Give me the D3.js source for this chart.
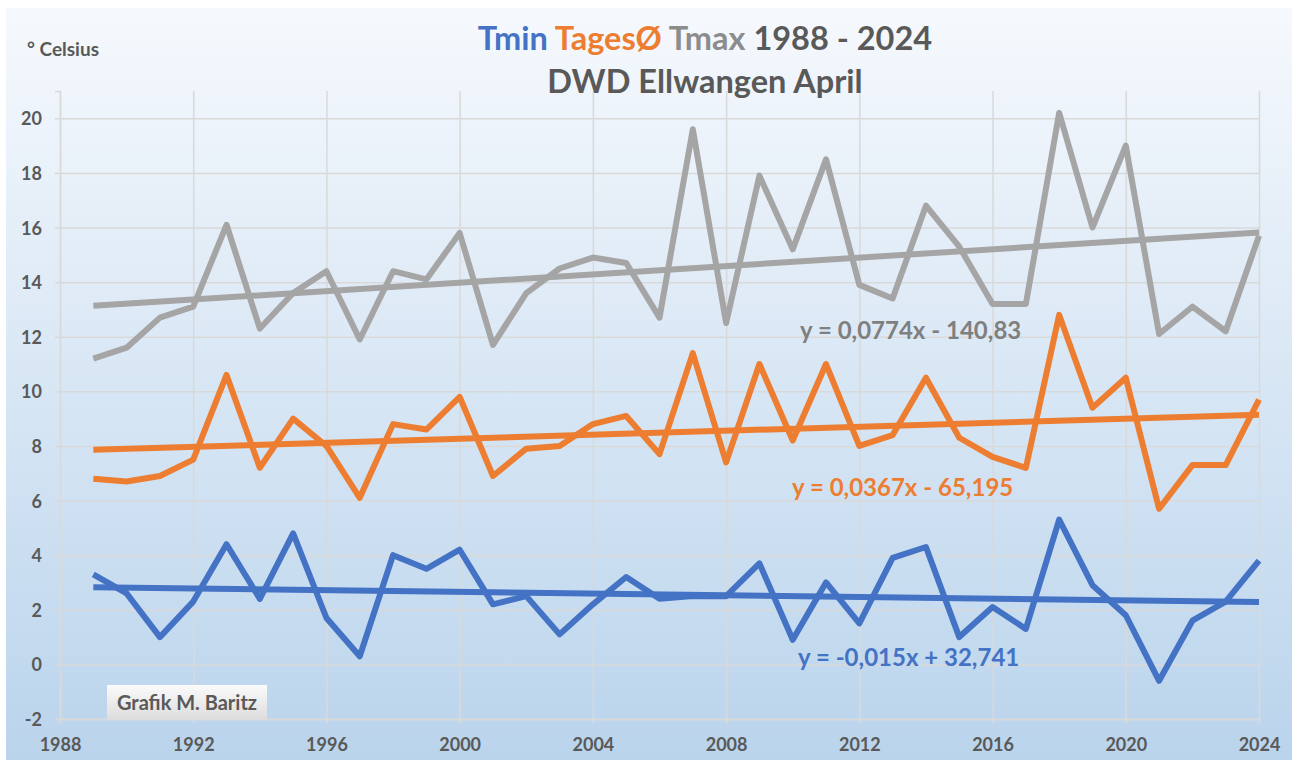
<!DOCTYPE html>
<html>
<head>
<meta charset="utf-8">
<script src="https://cdn.jsdelivr.net/npm/d3@7"></script>
<style>
  body { margin: 0; background: #ffffff; }
  svg text { font-family: Lato, "Open Sans", sans-serif; font-weight: bold; }
</style>
</head>
<body>
<div id="chart"></div>
<script>
// April temperatures, DWD station Ellwangen
var years = [1989, 1990, 1991, 1992, 1993, 1994, 1995, 1996, 1997, 1998, 1999, 2000,
             2001, 2002, 2003, 2004, 2005, 2006, 2007, 2008, 2009, 2010, 2011, 2012,
             2013, 2014, 2015, 2016, 2017, 2018, 2019, 2020, 2021, 2022, 2023, 2024];
var tmin  = [3.3, 2.6, 1.0, 2.3, 4.4, 2.4, 4.8, 1.7, 0.3, 4.0, 3.5, 4.2,
             2.2, 2.5, 1.1, 2.2, 3.2, 2.4, 2.5, 2.5, 3.7, 0.9, 3.0, 1.5,
             3.9, 4.3, 1.0, 2.1, 1.3, 5.3, 2.9, 1.8, -0.6, 1.6, 2.3, 3.8];
var tmean = [6.8, 6.7, 6.9, 7.5, 10.6, 7.2, 9.0, 8.0, 6.1, 8.8, 8.6, 9.8,
             6.9, 7.9, 8.0, 8.8, 9.1, 7.7, 11.4, 7.4, 11.0, 8.2, 11.0, 8.0,
             8.4, 10.5, 8.3, 7.6, 7.2, 12.8, 9.4, 10.5, 5.7, 7.3, 7.3, 9.7];
var tmax  = [11.2, 11.6, 12.7, 13.1, 16.1, 12.3, 13.6, 14.4, 11.9, 14.4, 14.1, 15.8,
             11.7, 13.6, 14.5, 14.9, 14.7, 12.7, 19.6, 12.5, 17.9, 15.2, 18.5, 13.9,
             13.4, 16.8, 15.3, 13.2, 13.2, 20.2, 16.0, 19.0, 12.1, 13.1, 12.2, 15.7];

var seriesNames = ["Tmin", "TagesØ", "Tmax"];
var trendLabels = ["y = -0,015x + 32,741", "y = 0,0367x - 65,195", "y = 0,0774x - 140,83"];
var xTicks = [1988, 1992, 1996, 2000, 2004, 2008, 2012, 2016, 2020, 2024];
var yTicks = [-2, 0, 2, 4, 6, 8, 10, 12, 14, 16, 18, 20];

var colors = ["#4472c4", "#ed7d31", "#a5a5a5"];
var labelColors = ["#4472c4", "#ed7d31", "#7f7f7f"];
var titleColors = ["#4472c4", "#ed7d31", "#8c8c8c"];
var labelPos = [[798, 666], [792, 496], [800, 339]];

var W = 1293, H = 760;
var mLeft = 60, mRight = 1259, mTop = 91, mBottom = 719;

var svg = d3.select("#chart").append("svg")
    .attr("width", W)
    .attr("height", H);

var defs = svg.append("defs");
var bg = defs.append("linearGradient").attr("id", "bg")
    .attr("x1", 0).attr("y1", 0).attr("x2", 0).attr("y2", 1);
bg.append("stop").attr("offset", "0%").attr("stop-color", "#f6f9fd");
bg.append("stop").attr("offset", "100%").attr("stop-color", "#bad4ec");

var boxGrad = defs.append("linearGradient").attr("id", "box")
    .attr("x1", 0).attr("y1", 0).attr("x2", 0).attr("y2", 1);
boxGrad.append("stop").attr("offset", "0%").attr("stop-color", "#fbfbfb");
boxGrad.append("stop").attr("offset", "100%").attr("stop-color", "#dcdcdc");

svg.append("rect")
    .attr("x", 6).attr("y", 8)
    .attr("width", 1286).attr("height", 752)
    .attr("fill", "url(#bg)");

var x = d3.scaleLinear().domain([1988, 2024]).range([mLeft, mRight]);
var y = d3.scaleLinear().domain([-2, 21]).range([mBottom, mTop]);

// grid
svg.append("g")
    .attr("transform", "translate(0," + mBottom + ")")
    .call(d3.axisBottom(x).tickValues(xTicks).tickSize(-(mBottom - mTop)).tickFormat(""))
    .call(function(g) { g.select(".domain").remove(); })
    .selectAll("line").attr("stroke", "#d9d9d9").attr("stroke-width", 1.5);

svg.append("g")
    .attr("transform", "translate(" + mLeft + ",0)")
    .call(d3.axisLeft(y).tickValues(yTicks).tickSize(-(mRight - mLeft)).tickFormat(""))
    .call(function(g) { g.select(".domain").remove(); })
    .selectAll("line").attr("stroke", "#d9d9d9").attr("stroke-width", 1.5);

// axes with small outer ticks and labels (plain hyphen for negatives)
var plain = function(d) { return String(d); };
var xAxis = svg.append("g")
    .attr("transform", "translate(0," + mBottom + ")")
    .call(d3.axisBottom(x).tickValues(xTicks).tickSize(5).tickPadding(14).tickFormat(plain));
var yAxis = svg.append("g")
    .attr("transform", "translate(" + mLeft + ",0)")
    .call(d3.axisLeft(y).tickValues(yTicks).tickSize(5).tickPadding(13).tickFormat(plain));

[xAxis, yAxis].forEach(function(a) {
    a.select(".domain").attr("stroke", "#d9d9d9").attr("stroke-width", 1.5);
    a.selectAll("line").attr("stroke", "#d9d9d9").attr("stroke-width", 1.5);
    a.selectAll("text")
        .attr("fill", "#595959")
        .style("font-size", "18px")
        .style("font-family", "Lato, sans-serif")
        .style("font-weight", "bold");
});
yAxis.selectAll("text").attr("dy", "0.36em");

// series and trendlines
var line = d3.line()
    .x(function(d) { return x(d[0]); })
    .y(function(d) { return y(d[1]); });

function fit(xs, ys) {
    var mx = d3.mean(xs), my = d3.mean(ys);
    var sxy = d3.sum(xs, function(v, i) { return (v - mx) * (ys[i] - my); });
    var sxx = d3.sum(xs, function(v) { return (v - mx) * (v - mx); });
    var b = sxy / sxx;
    return [b, my - b * mx];
}

[tmin, tmean, tmax].forEach(function(vals, i) {
    var pts = years.map(function(yr, j) { return [yr, vals[j]]; });
    svg.append("path")
        .datum(pts)
        .attr("d", line)
        .attr("fill", "none")
        .attr("stroke", colors[i])
        .attr("stroke-width", 6)
        .attr("stroke-linejoin", "round");

    var c = fit(years, vals);
    var ends = [years[0], years[years.length - 1]].map(function(yr) { return [yr, c[0] * yr + c[1]]; });
    svg.append("path")
        .datum(ends)
        .attr("d", line)
        .attr("fill", "none")
        .attr("stroke", colors[i])
        .attr("stroke-width", 6);

    svg.append("text")
        .attr("x", labelPos[i][0])
        .attr("y", labelPos[i][1])
        .attr("fill", labelColors[i])
        .style("font-size", "24px")
        .text(trendLabels[i]);
});

// titles
var t1 = svg.append("text")
    .attr("x", 705).attr("y", 50)
    .attr("text-anchor", "middle")
    .style("font-size", "32.5px");
seriesNames.forEach(function(n, i) {
    t1.append("tspan").attr("fill", titleColors[i]).text(n + " ");
});
t1.append("tspan").attr("fill", "#595959").text("1988 - 2024");

svg.append("text")
    .attr("x", 705).attr("y", 93)
    .attr("text-anchor", "middle")
    .attr("fill", "#595959")
    .style("font-size", "32.5px")
    .text("DWD Ellwangen April");

svg.append("text")
    .attr("x", 27).attr("y", 56)
    .attr("fill", "#595959")
    .style("font-size", "19px")
    .text("° Celsius");

// credit box
svg.append("rect")
    .attr("x", 107).attr("y", 685)
    .attr("width", 160).attr("height", 35)
    .attr("fill", "url(#box)");
svg.append("text")
    .attr("x", 187).attr("y", 710)
    .attr("text-anchor", "middle")
    .attr("fill", "#595959")
    .style("font-size", "20px")
    .text("Grafik M. Baritz");
</script>
</body>
</html>
